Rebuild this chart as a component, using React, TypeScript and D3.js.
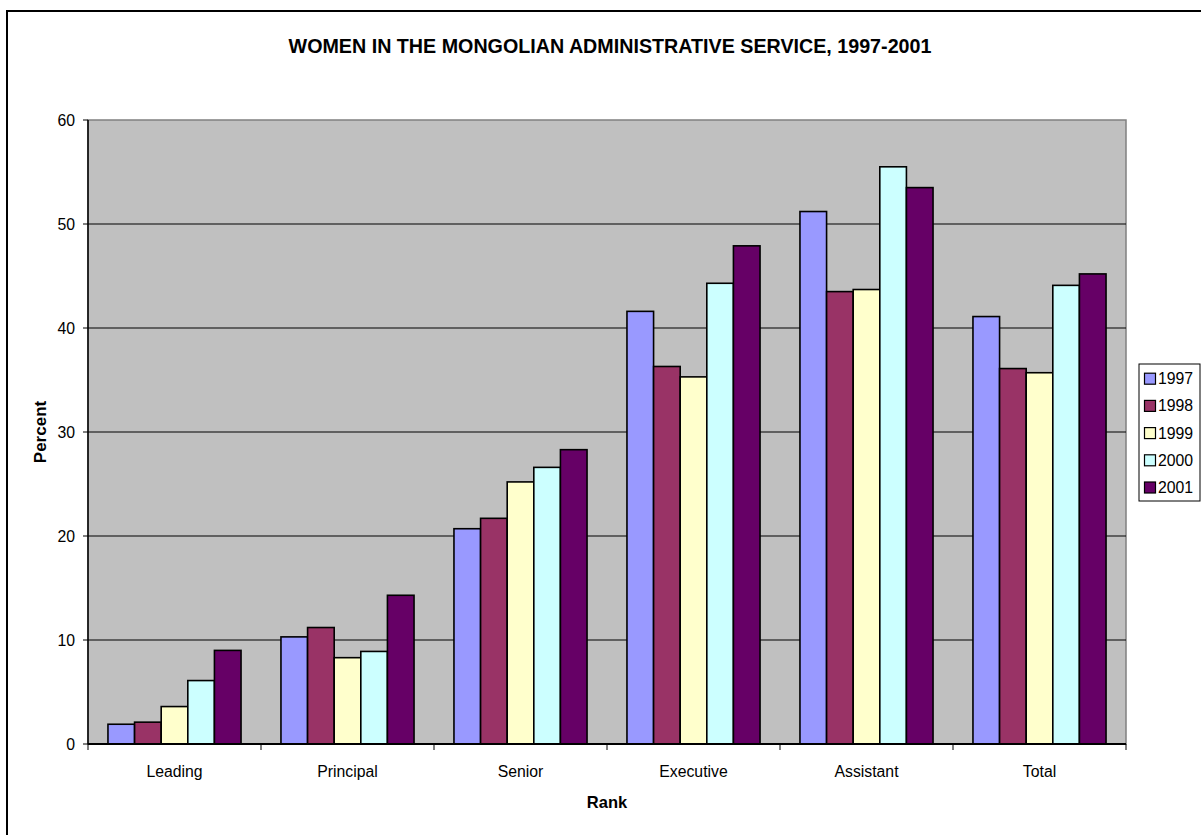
import React from "react";
import * as d3 from "d3";

const categories = ["Leading", "Principal", "Senior", "Executive", "Assistant", "Total"];
const years = ["1997", "1998", "1999", "2000", "2001"];
const yearColors = ["#9999FF", "#993366", "#FFFFCC", "#CCFFFF", "#660066"];

// Share of women (%) by rank, one array per year
const values1997 = [1.9, 10.3, 20.7, 41.6, 51.2, 41.1];
const values1998 = [2.1, 11.2, 21.7, 36.3, 43.5, 36.1];
const values1999 = [3.6, 8.3, 25.2, 35.3, 43.7, 35.7];
const values2000 = [6.1, 8.9, 26.6, 44.3, 55.5, 44.1];
const values2001 = [9.0, 14.3, 28.3, 47.9, 53.5, 45.2];
const seriesValues = [values1997, values1998, values1999, values2000, values2001];

const yTicks = [0, 10, 20, 30, 40, 50, 60];

const W = 1201;
const H = 835;
const plot = { left: 88, right: 1126, top: 120, bottom: 744 };
const FONT = "Liberation Sans, Arial, sans-serif";

export default function App() {
  const x0 = d3.scaleBand<string>().domain(categories).range([plot.left, plot.right]).padding(0);
  const x1 = d3
    .scaleBand<string>()
    .domain(years)
    .range([0, x0.bandwidth()])
    .paddingInner(0)
    .paddingOuter(0.75);
  const y = d3.scaleLinear().domain([0, 60]).range([plot.bottom, plot.top]);

  const boundaries = [...categories.map((c) => x0(c) as number), plot.right];

  return (
    <svg
      width={W}
      height={H}
      style={{ position: "absolute", left: 0, top: 0, display: "block", background: "#fff" }}
      fontFamily={FONT}
    >
      {/* chart frame */}
      <rect x={7} y={11} width={W + 10} height={H + 10} fill="#fff" stroke="#000" strokeWidth={2} />

      <text x={610} y={46} textAnchor="middle" dominantBaseline="central" fontSize={19.7} fontWeight="bold">
        WOMEN IN THE MONGOLIAN ADMINISTRATIVE SERVICE, 1997-2001
      </text>

      {/* plot area */}
      <rect
        x={plot.left}
        y={plot.top}
        width={plot.right - plot.left}
        height={plot.bottom - plot.top}
        fill="#C0C0C0"
        stroke="#808080"
        strokeWidth={1.5}
      />

      {/* gridlines */}
      {yTicks.slice(1, -1).map((t) => (
        <line key={t} x1={plot.left} x2={plot.right} y1={y(t)} y2={y(t)} stroke="#000" strokeWidth={1} />
      ))}

      {/* bars */}
      {seriesValues.map((vals, si) =>
        vals.map((v, ci) => (
          <rect
            key={`${si}-${ci}`}
            x={(x0(categories[ci]) as number) + (x1(years[si]) as number)}
            y={y(v)}
            width={x1.bandwidth()}
            height={plot.bottom - y(v)}
            fill={yearColors[si]}
            stroke="#000"
            strokeWidth={1.6}
          />
        ))
      )}

      {/* y axis */}
      <line x1={plot.left} x2={plot.left} y1={plot.top} y2={plot.bottom} stroke="#000" strokeWidth={1.5} />
      {yTicks.map((t) => (
        <g key={t}>
          <line x1={plot.left - 5} x2={plot.left} y1={y(t)} y2={y(t)} stroke="#000" strokeWidth={1} />
          <text x={75} y={y(t)} textAnchor="end" dominantBaseline="central" fontSize={15.8}>
            {t}
          </text>
        </g>
      ))}

      {/* x axis */}
      <line x1={plot.left} x2={plot.right} y1={plot.bottom} y2={plot.bottom} stroke="#000" strokeWidth={2} />
      {boundaries.map((bx, i) => (
        <line key={i} x1={bx} x2={bx} y1={plot.bottom} y2={plot.bottom + 6} stroke="#000" strokeWidth={1} />
      ))}
      {categories.map((c) => (
        <text
          key={c}
          x={(x0(c) as number) + x0.bandwidth() / 2}
          y={771}
          textAnchor="middle"
          dominantBaseline="central"
          fontSize={15.8}
        >
          {c}
        </text>
      ))}

      <text x={(plot.left + plot.right) / 2} y={802} textAnchor="middle" dominantBaseline="central" fontSize={16.5} fontWeight="bold">
        Rank
      </text>
      <text
        transform={`translate(40, ${(plot.top + plot.bottom) / 2}) rotate(-90)`}
        textAnchor="middle"
        dominantBaseline="central"
        fontSize={17}
        fontWeight="bold"
      >
        Percent
      </text>

      {/* legend */}
      <rect x={1139} y={364} width={61} height={137} fill="#fff" stroke="#000" strokeWidth={1} />
      {years.map((yr, i) => {
        const cy = 378.7 + i * 27.2;
        return (
          <g key={yr}>
            <rect x={1144.5} y={cy - 5.5} width={11} height={11} fill={yearColors[i]} stroke="#000" strokeWidth={1.2} />
            <text x={1158} y={cy} dominantBaseline="central" fontSize={15.8}>
              {yr}
            </text>
          </g>
        );
      })}
    </svg>
  );
}
